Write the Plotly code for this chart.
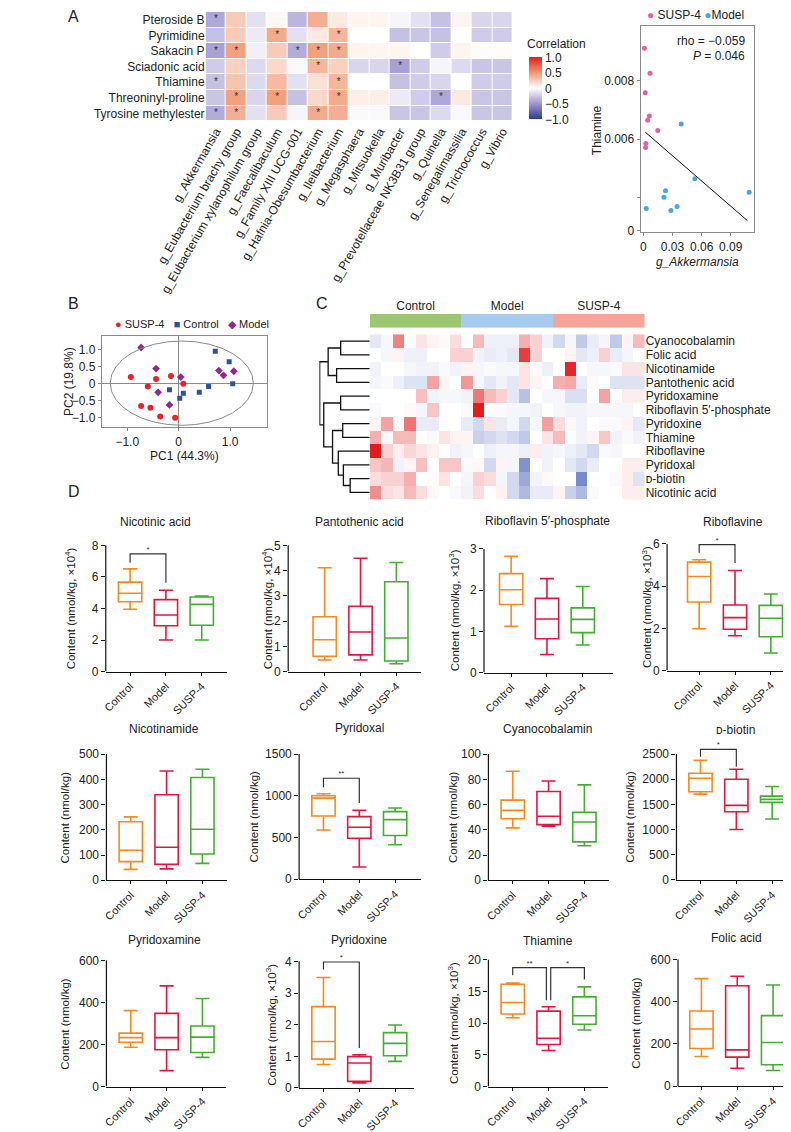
import plotly.graph_objects as go

W, H = 791, 1132
FONT = "Liberation Sans, Arial, sans-serif"
INK = "#222222"
MINUS = "\u2212"

# ---------------- panel A: correlation heatmap ----------------
metabolites = ["Pteroside B", "Pyrimidine", "Sakacin P", "Sciadonic acid",
               "Thiamine", "Threoninyl-proline", "Tyrosine methylester"]
genera = ["g_Akkermansia", "g_Eubacterium brachy group", "g_Eubacterium xylanophilum group",
          "g_Faecalibaculum", "g_Family XIII UCG-001", "g_Hafnia-Obesumbacterium",
          "g_Ileibacterium", "g_Megasphaera", "g_Mitsuokella", "g_Muribacter",
          "g_Prevotellaceae NK3B31 group", "g_Quinella", "g_Senegalimassilia",
          "g_Trichococcus", "g_Vibrio"]
corr = [
    [-0.42, 0.25, -0.15, 0.03, -0.35, 0.38, 0.10, 0.05, 0.05, -0.05, -0.15, -0.30, 0.05, -0.20, -0.20],
    [-0.30, 0.25, -0.10, 0.40, -0.15, 0.10, 0.35, 0.00, 0.00, -0.30, -0.28, -0.30, 0.00, -0.25, -0.25],
    [-0.45, 0.45, -0.08, 0.25, -0.40, 0.45, 0.40, 0.05, 0.05, 0.05, 0.00, -0.25, 0.05, 0.02, 0.02],
    [-0.25, 0.22, -0.18, 0.18, -0.03, 0.35, 0.22, -0.20, -0.20, -0.45, -0.25, -0.05, -0.18, -0.28, -0.28],
    [-0.30, 0.28, -0.18, 0.33, -0.15, 0.15, 0.35, 0.00, 0.00, -0.30, -0.25, -0.20, 0.00, -0.25, -0.25],
    [-0.28, 0.45, -0.20, 0.45, -0.30, 0.18, 0.40, 0.08, 0.08, -0.10, -0.25, -0.42, 0.10, -0.28, -0.28],
    [-0.40, 0.38, -0.15, 0.25, -0.05, 0.40, 0.38, -0.03, -0.03, -0.28, -0.28, -0.18, -0.03, -0.28, -0.28],
]
sig_cells = [(0, 0), (1, 3), (1, 6), (2, 0), (2, 1), (2, 4), (2, 5), (2, 6), (3, 5), (3, 9),
             (4, 0), (4, 6), (5, 1), (5, 3), (5, 6), (5, 11), (6, 0), (6, 1), (6, 5)]

# ---------------- panel A: Thiamine vs g_Akkermansia ----------------
susp_akk = [0.0010, 0.0068, 0.0019, 0.0061, 0.0044, 0.0148, 0.0025, 0.0022]
susp_thi = [0.00910, 0.00825, 0.00758, 0.00679, 0.00665, 0.00630, 0.00585, 0.00572]
model_akk = [0.0389, 0.0530, 0.0228, 0.0212, 0.1090, 0.0029, 0.0283, 0.0347]
model_thi = [0.00652, 0.00465, 0.00424, 0.00402, 0.00419, 0.00364, 0.00357, 0.00370]
fit_akk = [0.0019, 0.1073]
fit_thi = [0.00624, 0.00322]

# ---------------- panel B: PCA ----------------
pca_susp_x = [-0.93, -0.44, -0.15, 0.09, -0.60, -0.73, -0.55, -0.36, -0.07]
pca_susp_y = [0.20, 0.14, 0.23, 0.00, -0.08, -0.65, -0.70, -0.96, -1.00]
pca_ctrl_x = [0.71, 0.98, 1.05, 0.58, 0.40, 0.09, -0.18, 0.02]
pca_ctrl_y = [0.96, 0.65, 0.00, -0.08, -0.25, -0.28, -0.17, -0.42]
pca_model_x = [-0.73, -0.44, 0.04, 0.78, 0.87, 1.07, -0.18, -0.40]
pca_model_y = [1.07, 0.45, 0.20, 0.39, 0.25, 0.37, -0.62, -0.25]
ellipse_x = [-1.33, 1.45]
ellipse_y = [-1.22, 1.26]

# ---------------- panel C: vitamin heatmap ----------------
vitamins_c = ["Cyanocobalamin", "Folic acid", "Nicotinamide", "Pantothenic acid", "Pyridoxamine",
              "Riboflavin 5\u2032-phosphate", "Pyridoxine", "Thiamine", "Riboflavine", "Pyridoxal",
              "\u1d05-biotin", "Nicotinic acid"]
groups = ["Control", "Model", "SUSP-4"]
zscores = [
    [-0.15, -0.05, 0.55, 0.00, 0.12, 0.05, 0.02, 0.15, 0.00, 0.30, -0.10, -0.10, -0.10, 0.35, 0.20, -0.08, -0.25, -0.05, -0.35, -0.12, -0.06, -0.35, 0.05, 0.30],
    [0.00, -0.05, 0.05, -0.10, -0.10, 0.00, 0.00, 0.20, 0.20, -0.08, -0.12, -0.10, -0.15, 0.85, 0.20, 0.00, 0.00, 0.05, -0.15, -0.10, 0.20, -0.12, -0.06, 0.00],
    [-0.08, 0.00, 0.00, -0.05, -0.08, -0.08, -0.03, -0.08, 0.05, -0.06, -0.03, -0.05, -0.05, 0.12, -0.03, -0.10, 0.00, 0.95, 0.00, -0.05, -0.05, -0.03, 0.12, 0.12],
    [-0.06, -0.03, -0.10, -0.18, -0.18, 0.40, 0.05, 0.00, 0.45, -0.05, -0.15, -0.08, -0.15, 0.12, 0.05, 0.00, 0.35, 0.38, -0.12, 0.02, 0.00, -0.18, -0.18, -0.18],
    [0.00, 0.00, 0.00, 0.00, 0.28, -0.08, -0.05, -0.05, -0.08, 0.60, 0.30, 0.20, -0.15, -0.40, 0.00, -0.05, -0.05, -0.20, -0.20, 0.00, 0.40, 0.00, 0.08, 0.08],
    [-0.03, 0.00, 0.00, 0.02, -0.06, 0.25, 0.00, 0.00, -0.03, 1.00, 0.00, -0.03, -0.06, -0.06, -0.08, 0.00, -0.05, -0.08, -0.08, -0.05, -0.05, -0.05, -0.05, 0.00],
    [0.05, 0.40, 0.00, 0.60, -0.12, -0.12, 0.00, 0.00, -0.12, -0.25, 0.12, -0.12, -0.06, -0.25, -0.05, 0.42, 0.15, 0.03, -0.08, 0.00, -0.03, -0.03, 0.05, -0.15],
    [0.35, 0.03, 0.30, 0.30, 0.00, -0.03, 0.12, 0.05, 0.05, -0.30, -0.25, -0.18, -0.25, -0.35, 0.00, 0.12, 0.30, 0.00, -0.08, 0.05, 0.25, -0.08, -0.03, -0.08],
    [1.00, 0.20, 0.08, 0.18, 0.12, 0.06, 0.00, -0.08, -0.05, 0.00, -0.10, -0.06, -0.06, -0.10, 0.08, -0.08, -0.05, -0.10, -0.15, -0.25, -0.03, -0.05, 0.00, 0.00],
    [0.25, 0.32, -0.08, 0.05, 0.28, 0.00, 0.25, 0.25, -0.03, 0.03, -0.25, 0.05, -0.06, -0.70, 0.00, -0.08, 0.00, -0.15, -0.25, -0.12, 0.00, 0.00, 0.08, 0.08],
    [0.15, 0.20, 0.20, 0.35, 0.00, 0.02, 0.12, 0.00, -0.06, 0.20, 0.15, -0.06, -0.25, -0.55, -0.08, 0.03, 0.00, 0.00, -0.75, 0.00, 0.00, -0.03, 0.08, -0.18],
    [0.50, 0.15, 0.12, 0.30, 0.15, 0.03, 0.00, -0.03, -0.08, 0.15, 0.00, 0.06, -0.25, -0.45, -0.12, -0.12, 0.05, -0.30, -0.45, -0.03, 0.00, 0.00, 0.08, 0.08],
]
# hierarchical clustering of the rows: (node a, node b, merge height)
merges = [(0, 1, 86), (2, 3, 98), (12, 13, 123), (4, 5, 86), (6, 7, 80), (10, 11, 58),
          (9, 17, 78), (8, 18, 93), (16, 19, 110), (15, 20, 136), (14, 21, 148)]

# ---------------- panel D: box plots ----------------
box_titles = ["Nicotinic acid", "Pantothenic acid", "Riboflavin 5\u2032-phosphate", "Riboflavine",
              "Nicotinamide", "Pyridoxal", "Cyanocobalamin", "\u1d05-biotin",
              "Pyridoxamine", "Pyridoxine", "Thiamine", "Folic acid"]
box_scale = ["4", "4", "3", "3", "", "", "", "", "", "3", "3", ""]
box_lo = [[3.95, 2.00, 2.00], [0.46, 0.46, 0.31], [1.12, 0.44, 0.67], [1.98, 1.65, 0.83],
          [43, 45, 67], [591, 147, 413], [41.5, 42.8, 27.3], [1704, 1000, 1210],
          [187, 76, 139], [0.74, 0.16, 0.84], [10.86, 5.69, 8.93], [141, 85, 75]]
box_q1 = [[4.43, 2.90, 2.94], [0.60, 0.66, 0.42], [1.65, 0.82, 0.97], [3.25, 1.96, 1.60],
          [74, 63, 104], [758, 492, 524], [48.8, 44.1, 30.4], [1750, 1355, 1539],
          [211, 175, 162], [0.91, 0.21, 1.02], [11.44, 6.63, 9.82], [179, 138, 102]]
box_med = [[4.96, 3.59, 4.26], [1.26, 1.57, 1.33], [2.01, 1.30, 1.29], [4.46, 2.51, 2.48],
           [119, 131, 202], [972, 623, 714], [55.4, 50.7, 46.2], [2020, 1480, 1599],
           [233, 233, 235], [1.47, 0.79, 1.41], [13.26, 7.62, 11.17], [271, 172, 207]]
box_q3 = [[5.67, 4.56, 4.73], [2.17, 2.59, 3.56], [2.40, 1.80, 1.57], [5.14, 3.11, 3.09],
          [232, 339, 407], [1000, 750, 810], [63.5, 70.3, 53.8], [2118, 2000, 1664],
          [254, 348, 288], [2.57, 0.99, 1.75], [16.14, 11.90, 14.15], [356, 475, 334]]
box_hi = [[6.51, 5.15, 4.79], [4.11, 4.49, 4.32], [2.82, 2.28, 2.09], [5.25, 4.74, 3.63],
          [251, 433, 440], [1024, 825, 853], [86.4, 78.7, 75.6], [2375, 2197, 1855],
          [361, 479, 419], [3.49, 1.05, 1.99], [16.34, 12.58, 15.72], [509, 520, 479]]
y_max = [8, 5, 3, 6, 500, 1500, 100, 2500, 600, 4, 20, 600]
y_step = [2, 1, 1, 2, 100, 500, 20, 500, 200, 1, 5, 200]
# (panel, group a, group b, y at a, bracket top, y at b, label)
brackets = [(0, 0, 1, 6.89, 7.46, 5.63, "*"), (3, 0, 1, 5.58, 5.97, 5.10, "*"),
            (5, 0, 1, 1103, 1210, 913, "**"), (7, 0, 1, 2447, 2592, 2250, "*"),
            (9, 0, 1, 3.74, 3.98, 1.26, "*"), (10, 0, 0.94, 17.55, 18.75, 13.63, "**"),
            (10, 1.06, 2, 13.63, 18.75, 16.87, "*")]

# ---------------- layout helpers (pixel geometry) ----------------
def dx(a, b):
    return [a / W, b / W]


def dy(top, bottom):
    return [1 - bottom / H, 1 - top / H]


def names(n):
    return ("x", "y") if n == 1 else (f"x{n}", f"y{n}")


def keys(n):
    return ("xaxis", "yaxis") if n == 1 else (f"xaxis{n}", f"yaxis{n}")


fig = go.Figure()
lay = {}
ann = []
shapes = []


def text(x, y, s, size=12, xanchor="center", yanchor="middle", angle=0, color=INK):
    ann.append(dict(x=x / W, y=1 - y / H, xref="paper", yref="paper", text=s, showarrow=False,
                    xanchor=xanchor, yanchor=yanchor, textangle=angle,
                    font=dict(family=FONT, size=size, color=color)))


plain = dict(showgrid=False, zeroline=False)

# ---- A heatmap ----
corr_scale = [[0, "#2c3b90"], [0.25, "#9f97d0"], [0.5, "#ffffff"], [0.75, "#f09670"], [1, "#e41e1e"]]
fig.add_trace(go.Heatmap(
    z=corr, x=list(range(len(genera))), y=list(range(len(metabolites))),
    zmin=-1, zmax=1, colorscale=corr_scale, xgap=1, ygap=1, hoverinfo="skip",
    colorbar=dict(x=502 / W, xanchor="left", xpad=0, y=1 - 81 / H, yanchor="middle", ypad=0,
                  len=62, lenmode="pixels", thickness=13, thicknessmode="pixels",
                  outlinewidth=0, ticks="", tickvals=[-1, -0.5, 0, 0.5, 1],
                  ticktext=[MINUS + "1.0", MINUS + "0.5", "0", "0.5", "1.0"],
                  tickfont=dict(family=FONT, size=12, color=INK)),
    xaxis="x", yaxis="y"))
fig.add_trace(go.Scatter(
    x=[c for r, c in sig_cells], y=[r for r, c in sig_cells], mode="text", text=["*"] * len(sig_cells),
    textfont=dict(family=FONT, size=10, color="#333"), hoverinfo="skip", showlegend=False,
    xaxis="x", yaxis="y"))
lay["xaxis"] = dict(domain=dx(156.7, 485), anchor="y", range=[-0.5, 14.5], tickvals=list(range(15)),
                    ticktext=genera, tickangle=-60, ticks="",
                    tickfont=dict(family=FONT, size=12, color=INK), **plain)
lay["yaxis"] = dict(domain=dy(4, 114), anchor="x", range=[6.5, -0.5], tickvals=list(range(7)),
                    ticktext=metabolites, ticks="", tickfont=dict(family=FONT, size=12, color=INK), **plain)
text(498, 36, "Correlation", 12, xanchor="left")
text(7, 9, "A", 16, xanchor="left")

# ---- A scatter ----
fig.add_trace(go.Scatter(x=susp_akk, y=susp_thi, mode="markers", marker=dict(size=5, color="#e3619c"),
                         showlegend=False, xaxis="x2", yaxis="y2"))
fig.add_trace(go.Scatter(x=model_akk, y=model_thi, mode="markers", marker=dict(size=5, color="#4aa6e0"),
                         showlegend=False, xaxis="x2", yaxis="y2"))
fig.add_trace(go.Scatter(x=fit_akk, y=fit_thi, mode="lines", line=dict(color="#111", width=1),
                         showlegend=False, xaxis="x2", yaxis="y2"))
frame = dict(showline=True, mirror=True, linecolor="#8a8a8a", linewidth=1, ticks="outside",
             ticklen=3, tickcolor="#8a8a8a", tickfont=dict(family=FONT, size=12, color=INK))
lay["xaxis2"] = dict(domain=dx(621.7, 743), anchor="y2", range=[-0.0029, 0.1141],
                     tickvals=[0, 0.03, 0.06, 0.09], ticktext=["0", "0.03", "0.06", "0.09"], **frame, **plain)
lay["yaxis2"] = dict(domain=dy(18, 225.7), anchor="x2", range=[0.002824, 0.009864],
                     tickvals=[0.00288, 0.004, 0.006, 0.008], ticktext=["0", " ", "0.006", "0.008"],
                     **frame, **plain)
text(626, 7, "<span style='color:#e3619c'>\u25cf</span> SUSP-4 <span style='color:#4aa6e0'>\u25cf</span>Model",
     12, xanchor="left")
text(735, 33, "rho = " + MINUS + "0.059", 12, xanchor="right")
text(735, 48, "<i>P</i> = 0.046", 12, xanchor="right")
text(575, 123, "Thiamine", 12, angle=-90)
text(683, 256, "<i>g_Akkermansia</i>", 12)

# ---- B PCA ----
fig.add_trace(go.Scatter(x=pca_susp_x, y=pca_susp_y, mode="markers",
                         marker=dict(size=6, color="#e8222a", symbol="circle"),
                         showlegend=False, xaxis="x3", yaxis="y3"))
fig.add_trace(go.Scatter(x=pca_ctrl_x, y=pca_ctrl_y, mode="markers",
                         marker=dict(size=5, color="#2f52a0", symbol="square"),
                         showlegend=False, xaxis="x3", yaxis="y3"))
fig.add_trace(go.Scatter(x=pca_model_x, y=pca_model_y, mode="markers",
                         marker=dict(size=6, color="#8e2a8e", symbol="diamond"),
                         showlegend=False, xaxis="x3", yaxis="y3"))
shapes.append(dict(type="circle", xref="x3", yref="y3", x0=ellipse_x[0], x1=ellipse_x[1],
                   y0=ellipse_y[0], y1=ellipse_y[1], line=dict(color="#8a8a8a", width=1)))
pca_frame = dict(frame, zeroline=True, zerolinecolor="#8a8a8a", zerolinewidth=1, showgrid=False)
lay["xaxis3"] = dict(domain=dx(45.7, 222), anchor="y3", range=[-1.495, 1.709], tickvals=[-1, 0, 1],
                     ticktext=[MINUS + "1.0", "0", "1.0"], **pca_frame)
lay["yaxis3"] = dict(domain=dy(330, 422), anchor="x3", range=[-1.281, 1.409], tickvals=[-1, -0.5, 0, 0.5, 1],
                     ticktext=[MINUS + "1.0", MINUS + "0.5", "0", "0.5", "1.0"], **pca_frame)
text(58, 318, "<span style='color:#e8222a'>\u25cf</span> SUSP-4   <span style='color:#2f52a0'>\u25a0</span> Control"
     "   <span style='color:#8e2a8e'>\u25c6</span> Model", 11, xanchor="left")
text(134, 451, "PC1 (44.3%)", 12)
text(10, 376, "PC2 (19.8%)", 12, angle=-90)
text(7, 297, "B", 16, xanchor="left")

# ---- C dendrogram + heatmap ----
pos = {i: i for i in range(len(vitamins_c))}
hgt = {i: 0 for i in range(len(vitamins_c))}
den_x, den_y = [], []
for k, (a, b, h) in enumerate(merges):
    den_x += [hgt[a], h, h, hgt[b], None]
    den_y += [pos[a], pos[a], pos[b], pos[b], None]
    pos[len(vitamins_c) + k] = (pos[a] + pos[b]) / 2
    hgt[len(vitamins_c) + k] = h
fig.add_trace(go.Scatter(x=den_x, y=den_y, mode="lines", line=dict(color="#111", width=1.3),
                         showlegend=False, hoverinfo="skip", xaxis="x4", yaxis="y4"))
c_top, c_bot = 328.3, 494.3
lay["xaxis4"] = dict(domain=dx(278.3, 332.2), anchor="y4", range=[149, 0], visible=False)
lay["yaxis4"] = dict(domain=dy(c_top, c_bot), anchor="x4", range=[11.5, -0.5], visible=False)

fig.add_trace(go.Heatmap(z=zscores, x=list(range(24)), y=list(range(12)), zmin=-1, zmax=1,
                         colorscale=[[0, "#4a64b8"], [0.5, "#ffffff"], [1, "#e41a1c"]],
                         showscale=False, hoverinfo="skip", xaxis="x5", yaxis="y5"))
lay["xaxis5"] = dict(domain=dx(332.2, 626), anchor="y5", range=[-0.5, 23.5], visible=False)
lay["yaxis5"] = dict(domain=dy(c_top, c_bot), anchor="x5", range=[11.5, -0.5], side="right",
                     tickvals=list(range(12)), ticktext=vitamins_c, ticks="",
                     tickfont=dict(family=FONT, size=12, color=INK), **plain)

fig.add_trace(go.Heatmap(z=[[0, 1, 2]], x=[0, 1, 2], y=[0], zmin=0, zmax=2,
                         colorscale=[[0, "#9bc86e"], [0.333, "#9bc86e"], [0.333, "#a7cbee"],
                                     [0.667, "#a7cbee"], [0.667, "#f4a597"], [1, "#f4a597"]],
                         showscale=False, hoverinfo="skip", xaxis="x6", yaxis="y6"))
lay["xaxis6"] = dict(domain=dx(332.2, 626), anchor="y6", range=[-0.5, 2.5], side="top",
                     tickvals=[0, 1, 2], ticktext=groups, ticks="",
                     tickfont=dict(family=FONT, size=12, color=INK), **plain)
lay["yaxis6"] = dict(domain=dy(307.7, 321.7), anchor="x6", range=[-0.5, 0.5], visible=False)
text(273, 297, "C", 16, xanchor="left")

# ---- D box plots ----
group_colors = ["#f6891f", "#e3163f", "#45ac34"]
box_left = [50, 245, 454.3, 650, 50.7, 256.7, 459, 660, 50.7, 256.7, 459, 661.7]
box_c0 = [76, 284, 483.3, 684.3, 76.7, 282.7, 485, 685.7, 76.7, 282.7, 485, 686.7]
box_right = [180, 387, 592, 790, 180, 387, 588, 790, 178, 380, 587, 788]
box_top = [540.7, 540.7, 544.3, 539.3, 750.7, 750.7, 750.7, 750.7, 958.3, 959.3, 957.7, 957.3]
box_bot = [667.7, 667.7, 668.7, 666.7, 877.7, 876.7, 877.7, 877.3, 1085.3, 1086.7, 1085.3, 1085]
title_x = [102.7, 321, 522.7, 720.7, 112.7, 321.7, 522.7, 722.7, 112.7, 321, 522.7, 724.3]
title_y = [516.7, 516.7, 516, 516.7, 725, 724, 725, 726, 938.3, 937.3, 939.3, 936]
ytitle_x = [12.7, 223.3, 421.7, 628.3, 6.7, 208.3, 421, 610, 6.7, 226.7, 421, 616.7]
step_px = 38.3
head = 30

for p in range(12):
    n = 7 + p
    xn, yn = names(n)
    xk, yk = keys(n)
    for g in range(3):
        fig.add_trace(go.Box(
            x=[g], q1=[box_q1[p][g]], median=[box_med[p][g]], q3=[box_q3[p][g]],
            lowerfence=[box_lo[p][g]], upperfence=[box_hi[p][g]], orientation="v",
            width=0.65, whiskerwidth=0.6, boxpoints=False, fillcolor="white",
            line=dict(color=group_colors[g], width=1.6), showlegend=False, hoverinfo="skip",
            xaxis=xn, yaxis=yn))
    top_ext = y_max[p] * (box_bot[p] - box_top[p] + head) / (box_bot[p] - box_top[p])
    lay[xk] = dict(domain=dx(box_left[p], box_right[p]), anchor=yn,
                   range=[(box_left[p] - box_c0[p]) / step_px, (box_right[p] - box_c0[p]) / step_px],
                   tickvals=[0, 1, 2], ticktext=groups, tickangle=-45, ticks="outside", ticklen=3,
                   tickcolor="#111", showline=True, linecolor="#111", linewidth=1.2,
                   tickfont=dict(family=FONT, size=11, color=INK), **plain)
    ticks = [y_step[p] * i for i in range(int(round(y_max[p] / y_step[p])) + 1)]
    lay[yk] = dict(domain=dy(box_top[p] - head, box_bot[p]), anchor=xn, range=[0, top_ext],
                   tickvals=ticks, ticks="outside", ticklen=4, tickcolor="#111", showline=False,
                   tickfont=dict(family=FONT, size=12, color=INK), **plain)
    shapes.append(dict(type="line", xref=f"{xn} domain", yref=yn, x0=0, x1=0, y0=0, y1=y_max[p],
                       line=dict(color="#111", width=1.2)))
    unit = f"Content (nmol/kg, \u00d710<sup>{box_scale[p]}</sup>)" if box_scale[p] else "Content (nmol/kg)"
    text(ytitle_x[p], (box_top[p] + box_bot[p]) / 2, unit, 11.5, angle=-90)
    text(title_x[p], title_y[p], box_titles[p], 12)

for p, ga, gb, ya, yt, yb, lab in brackets:
    xn, yn = names(7 + p)
    fig.add_trace(go.Scatter(x=[ga, ga, gb, gb], y=[ya, yt, yt, yb], mode="lines",
                             line=dict(color="#333", width=1.2), showlegend=False, hoverinfo="skip",
                             xaxis=xn, yaxis=yn))
    fig.add_trace(go.Scatter(x=[(ga + gb) / 2], y=[yt], mode="text", text=[lab], textposition="top center",
                             textfont=dict(family=FONT, size=8, color="#333"), showlegend=False,
                             hoverinfo="skip", cliponaxis=False, xaxis=xn, yaxis=yn))
text(7, 487, "D", 16, xanchor="left")

fig.update_layout(width=W, height=H, margin=dict(l=0, r=0, t=0, b=0), paper_bgcolor="white",
                  plot_bgcolor="white", showlegend=False, annotations=ann, shapes=shapes,
                  font=dict(family=FONT, color=INK), **lay)
fig.write_html("out.html")
